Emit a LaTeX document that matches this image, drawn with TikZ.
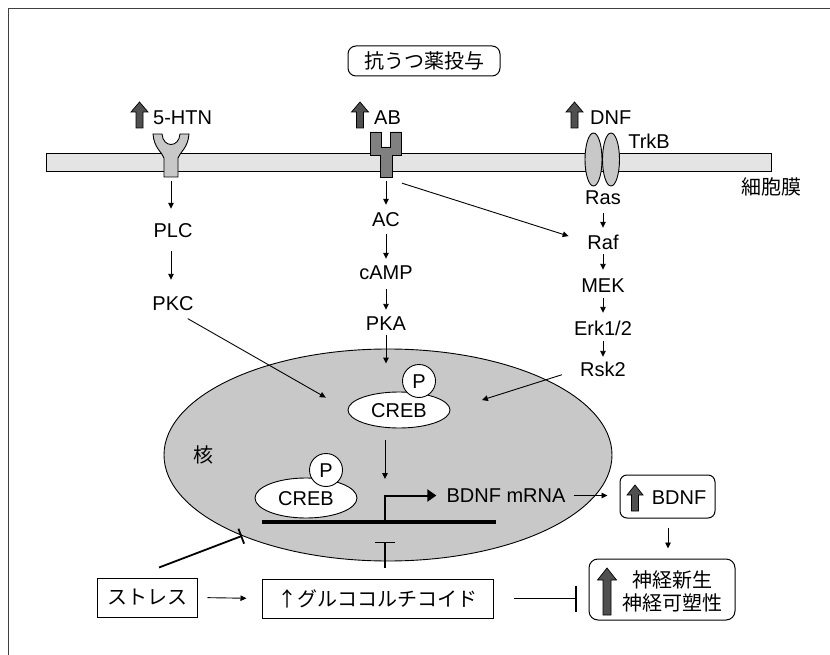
\documentclass[tikz,border=0pt]{standalone}
\usepackage{fontspec}
\setmainfont{Liberation Sans}
\newfontfamily\jp{Noto Sans CJK JP}
\usetikzlibrary{shapes.geometric,arrows.meta,calc}
\definecolor{nucgray}{HTML}{C8C8C8}
\definecolor{memgray}{HTML}{E4E4E4}
\definecolor{recgray}{HTML}{C8C8C8}
\definecolor{abgray}{HTML}{808080}
\definecolor{arrowgray}{HTML}{505050}
\definecolor{framegray}{HTML}{404040}
\begin{document}
\begin{tikzpicture}[x=1pt,y=-1pt,
  lbl/.style={inner sep=0pt, text height=14pt, text depth=0pt, font=\fontsize{20}{24}\selectfont},
  jlbl/.style={inner sep=0pt, font=\jp\fontsize{20}{24}\selectfont},
  arr/.style={line width=0.9pt, -{Triangle[length=6pt,width=5.5pt]}},
  inh/.style={line width=1.8pt},
  boxline/.style={draw, line width=1pt, inner sep=0pt},
  arrowfill/.style={fill=arrowgray, draw=black, line width=0.7pt},
  pics/garrow/.style n args={4}{code={
    \draw[arrowfill] (-#4,0) -- (-#4,-#1+#2) -- (-#3,-#1+#2) -- (0,-#1) -- (#3,-#1+#2) -- (#4,-#1+#2) -- (#4,0) -- cycle;}}
]
\useasboundingbox (0,0) rectangle (830,655);
% frame
\draw[framegray, line width=1.5pt] (8.5,655) -- (8.5,8.5) -- (830,8.5);

% title
\node[boxline, rounded corners=8pt, minimum width=152pt, minimum height=30pt, jlbl] (title) at (424,61) {抗うつ薬投与};

% membrane
\node[boxline, fill=memgray, minimum width=725pt, minimum height=18pt] (mem) at (408.5,162.5) {};

% 5-HTN receptor
\draw[fill=recgray, line width=0.9pt] (153,134) -- (162,134) .. controls (163,148) and (179,148) .. (180,134) -- (189,134) .. controls (188,148) and (180,152) .. (178,158) -- (178,177) -- (164,177) -- (164,158) .. controls (162,152) and (154,148) .. (153,134) -- cycle;
\coordinate (r5bot) at (171,177);

% AB receptor
\draw[fill=abgray, line width=0.9pt] (370,132) -- (381,132) -- (381,147) -- (390,147) -- (390,132) -- (401,132) -- (401,155) -- (392,155) -- (392,177) -- (380,177) -- (380,155) -- (370,155) -- cycle;
\coordinate (abbot) at (386,177);
\coordinate (abr) at (392,180);

% TrkB
\node[ellipse, draw, fill=recgray, line width=0.9pt, minimum width=17pt, minimum height=53pt, inner sep=0pt] (trk1) at (593.5,159.5) {};
\node[ellipse, draw, fill=recgray, line width=0.9pt, minimum width=17pt, minimum height=53pt, inner sep=0pt] (trk2) at (611,159.5) {};

% gray up arrows and ligand labels
\pic at (139.5,128) {garrow={26}{10}{8.5}{3.5}};
\pic at (360,128) {garrow={26}{10}{8.5}{3.5}};
\pic at (574.5,128) {garrow={26}{10}{8.5}{3.5}};
\node[lbl, anchor=west] (l5ht) at (153,118) {5-HTN};
\node[lbl, anchor=west] (lab) at (374,118) {AB};
\node[lbl, anchor=west] (ldnf) at (590,118) {DNF};
\node[lbl] (trkb) at (649,142) {TrkB};
\node[jlbl] (memlbl) at (771,187) {細胞膜};

% cascade labels
\node[lbl] (plc) at (173,231) {PLC};
\node[lbl] (pkc) at (173,303) {PKC};
\node[lbl] (ac) at (386,220) {AC};
\node[lbl] (camp) at (386,272) {cAMP};
\node[lbl] (pka) at (386,323) {PKA};
\node[lbl] (ras) at (603,198) {Ras};
\node[lbl] (raf) at (603,242) {Raf};
\node[lbl] (mek) at (603,285) {MEK};
\node[lbl] (erk) at (603,328) {Erk1/2};
\node[lbl] (rsk) at (603,369) {Rsk2};

% nucleus
\node[ellipse, draw, fill=nucgray, line width=0.9pt, minimum width=448pt, minimum height=212pt, inner sep=0pt] (nuc) at (388,455) {};
\node[jlbl] (nuclbl) at (203,455) {核};

% CREBs
\node[ellipse, draw, fill=white, line width=0.9pt, minimum width=102pt, minimum height=36pt, lbl] (creb1) at (399,410) {CREB};
\node[circle, draw, fill=white, line width=0.9pt, minimum size=33pt, lbl] (p1) at (419,381) {P};
\node[ellipse, draw, fill=white, line width=0.9pt, minimum width=102pt, minimum height=40pt, lbl] (creb2) at (306,498) {CREB};
\node[circle, draw, fill=white, line width=0.9pt, minimum size=33pt, lbl] (p2) at (326,470) {P};

% DNA and transcription
\coordinate (dnaL) at (262,522);
\coordinate (dnaR) at (496,522);
\coordinate (tss) at (385,522);
\draw[line width=3.5pt] (dnaL) -- (dnaR);
\node[lbl] (mrna) at (506,495.5) {BDNF mRNA};
\draw[line width=2pt, line join=miter, shorten >=10pt, -{Triangle[length=9pt,width=12pt]}] (tss) |- (mrna.west);

% outputs
\node[boxline, rounded corners=7pt, minimum width=95pt, minimum height=43pt] (bdnfbox) at (667.5,496.5) {};
\pic at (635,511) {garrow={26}{10}{8}{3.5}};
\node[lbl] (bdnf) at (679,497) {BDNF};
\node[boxline, rounded corners=9pt, minimum width=146pt, minimum height=61pt] (neuro) at (662,589.5) {};
\pic at (607,615) {garrow={47}{12}{9.5}{4}};
\node[jlbl] (neu1) at (672.5,579.5) {神経新生};
\node[jlbl] (neu2) at (672.5,602.5) {神経可塑性};

\node[boxline, minimum width=100pt, minimum height=39pt, jlbl] (stress) at (147,597.5) {ストレス};
\node[boxline, minimum width=231pt, minimum height=39pt, jlbl] (gluco) at (377.5,598.5) {↑グルココルチコイド};

% connectors
\draw[arr, shorten <=4pt, shorten >=15pt] (r5bot) -- (r5bot |- plc.north);
\draw[arr, shorten <=13pt, shorten >=16pt] (plc.south -| r5bot) -- (pkc.north -| r5bot);
\draw[arr, shorten <=4pt, shorten >=8pt] (abbot) -- (abbot |- ac.north);
\draw[arr, shorten <=7pt, shorten >=6pt] (ac.south) -- (camp.north);
\draw[arr, shorten <=10pt, shorten >=6pt] (camp.south) -- (pka.north);
\draw[arr, shorten <=5pt, shorten >=28pt] (pka.south) -- (pka.south |- creb1.north);
\draw[arr, shorten <=10.5pt, shorten >=19.5pt] (abr) -- (raf.west);
\draw[arr, shorten <=8pt, shorten >=7pt] (ras.south) -- (raf.north);
\draw[arr, shorten <=5pt, shorten >=8pt] (raf.south) -- (mek.north);
\draw[arr, shorten <=6pt, shorten >=8pt] (mek.south) -- (erk.north);
\draw[arr, shorten <=6pt, shorten >=5pt] (erk.south) -- (rsk.north);
\draw[arr, shorten <=17pt, shorten >=25pt] (pkc.south) -- (creb1.west);
\draw[arr, shorten <=19pt, shorten >=33pt] (rsk.west) -- (creb1.east);
\draw[arr, shorten <=12pt, shorten >=43pt] (creb1.south -| tss) -- (tss);
\draw[arr, shorten <=8pt, shorten >=12pt] (mrna.east) -- (bdnfbox.west |- mrna.east);
\draw[arr, shorten <=9pt, shorten >=10pt] (bdnfbox.south -| 668,0) -- (neuro.north -| 668,0);
\draw[arr, shorten <=10pt, shorten >=15pt] (stress.east) -- (gluco.west);
\draw[inh, shorten <=20pt, shorten >=12pt, -{Bar[width=26pt,line width=1.8pt]}] (gluco.east) -- (gluco.east -| neuro.west);
\draw[inh, -{Bar[width=16pt,line width=1.8pt]}] ([xshift=12pt,yshift=10pt]stress.north) -- (nuc.209);
\draw[line width=1.2pt, shorten <=11pt, shorten >=20pt, -{Bar[width=20pt,line width=1.2pt]}] (gluco.north -| tss) -- (tss);
\end{tikzpicture}
\end{document}
